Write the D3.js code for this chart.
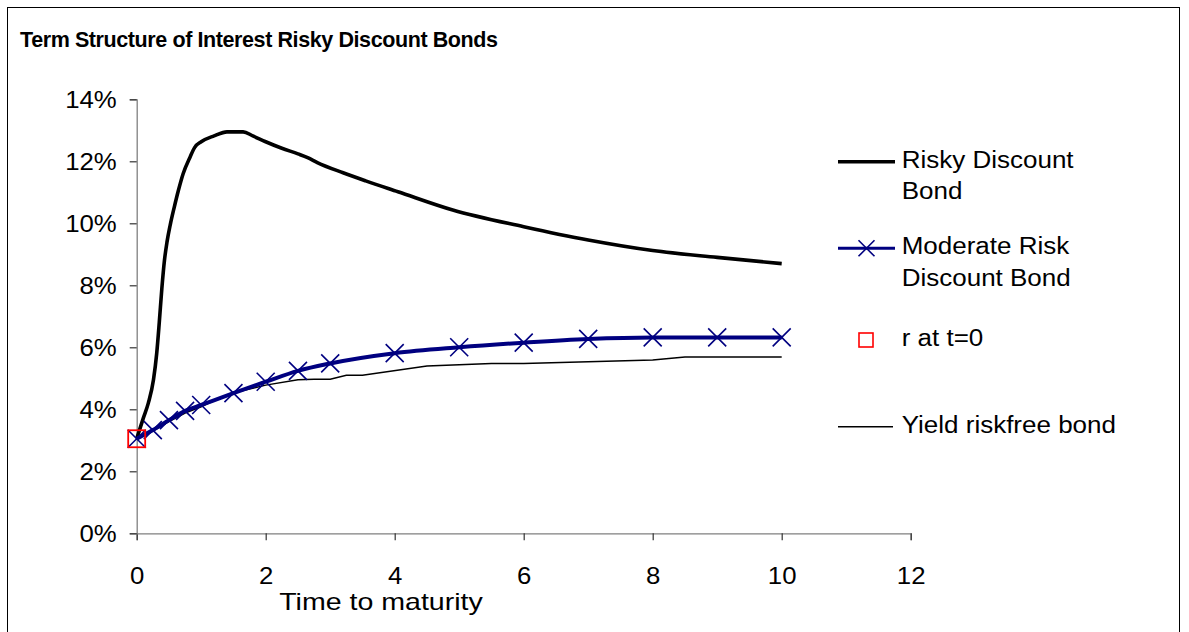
<!DOCTYPE html>
<html>
<head>
<meta charset="utf-8">
<script src="https://cdn.jsdelivr.net/npm/d3@7"></script>
<style>
  body { margin: 0; background: #fff; }
  text { font-family: "Liberation Sans", Arial, sans-serif; fill: #000; }
</style>
</head>
<body>
<div id="chart"></div>
<script>
// series data (percent)
const riskyT = [0, 0.1, 0.18, 0.26, 0.31, 0.35, 0.39, 0.43, 0.47, 0.52, 0.58, 0.645, 0.72, 0.83, 0.9, 1, 1.2, 1.4, 1.65, 1.8, 2, 2.25, 2.5, 2.65, 2.8, 3.2, 3.55, 4.05, 4.9, 6, 7, 8, 9, 10];
const riskyY = [3.05, 3.7, 4.2, 4.95, 5.8, 6.8, 7.9, 8.8, 9.4, 9.95, 10.5, 11.05, 11.6, 12.15, 12.45, 12.63, 12.82, 12.95, 12.95, 12.82, 12.63, 12.42, 12.24, 12.12, 11.96, 11.63, 11.37, 11.02, 10.43, 9.89, 9.46, 9.12, 8.9, 8.7];

const modT = [0, 0.25, 0.5, 0.75, 1, 1.5, 2, 2.5, 3, 4, 5, 6, 7, 8, 9, 10];
const modY = [3.05, 3.33, 3.65, 3.95, 4.14, 4.52, 4.89, 5.24, 5.48, 5.81, 6.0, 6.15, 6.27, 6.32, 6.32, 6.32];

const rfT = [0, 0.25, 0.5, 0.75, 1, 1.25, 1.5, 2, 2.5, 2.75, 3, 3.25, 3.5, 4.5, 5.5, 6, 7, 8, 8.5, 9, 10];
const rfY = [3.05, 3.3, 3.6, 3.88, 4.08, 4.33, 4.53, 4.78, 4.95, 4.97, 4.97, 5.1, 5.1, 5.4, 5.48, 5.48, 5.53, 5.59, 5.69, 5.69, 5.69];

const r0T = [0];
const r0Y = [3.05];

const xTicks = [0, 2, 4, 6, 8, 10, 12];
const yTicks = [0, 2, 4, 6, 8, 10, 12, 14];

const title = "Term Structure of Interest Risky Discount Bonds";
const xTitle = "Time to maturity";
const legendItems = [
  {lines: ["Risky Discount", "Bond"], type: "risky"},
  {lines: ["Moderate Risk", "Discount Bond"], type: "mod"},
  {lines: ["r at t=0"], type: "r0"},
  {lines: ["Yield riskfree bond"], type: "rf"}
];

const W = 1189, H = 632;
const navy = "#000080";

const svg = d3.select("#chart").append("svg")
    .attr("width", W)
    .attr("height", H);

// chart frame
svg.append("rect")
    .attr("x", 7.5).attr("y", 7.5)
    .attr("width", 1172).attr("height", 640)
    .attr("fill", "#fff")
    .attr("stroke", "#000")
    .attr("stroke-width", 1);

const x = d3.scaleLinear().domain([0, 12]).range([136.7, 910.7]);
const y = d3.scaleLinear().domain([0, 14]).range([533.3, 99.3]);

// axes
const xAxis = svg.append("g")
    .attr("transform", `translate(0,${y(0)})`)
    .call(d3.axisBottom(x).tickValues(xTicks).tickSize(7).tickPadding(27).tickFormat(d3.format("d")));
const yAxis = svg.append("g")
    .attr("transform", `translate(${x(0)},0)`)
    .call(d3.axisLeft(y).tickValues(yTicks).tickSize(7).tickPadding(13).tickFormat(d => d + "%"));

[xAxis, yAxis].forEach(g => {
  g.select(".domain").attr("stroke", "#808080").attr("stroke-width", 1.3);
  g.selectAll(".tick line").attr("stroke", "#333").attr("stroke-width", 1.2);
  g.selectAll(".tick text")
      .attr("class", "stretch")
      .attr("data-k", 1.12)
      .attr("font-size", 23)
      .attr("font-family", "Liberation Sans, Arial, sans-serif")
      .attr("fill", "#000");
});
yAxis.selectAll(".tick text").attr("dy", "0.36em");
xAxis.selectAll(".tick text").attr("dy", "0.72em");

const line = d3.line()
    .x(d => x(d[0]))
    .y(d => y(d[1]));

const zip = (a, b) => a.map((v, i) => [v, b[i]]);

// riskfree thin line
svg.append("path")
    .datum(zip(rfT, rfY))
    .attr("fill", "none")
    .attr("stroke", "#000")
    .attr("stroke-width", 1.5)
    .attr("d", line);

// risky line
svg.append("path")
    .datum(zip(riskyT, riskyY))
    .attr("fill", "none")
    .attr("stroke", "#000")
    .attr("stroke-width", 3.6)
    .attr("stroke-linejoin", "round")
    .attr("d", line.curve(d3.curveMonotoneX));
line.curve(d3.curveLinear);

// moderate line + x markers
svg.append("path")
    .datum(zip(modT, modY))
    .attr("fill", "none")
    .attr("stroke", navy)
    .attr("stroke-width", 4)
    .attr("stroke-linejoin", "round")
    .attr("d", line.curve(d3.curveMonotoneX));
line.curve(d3.curveLinear);

const xMark = (cx, cy, s) => `M${cx - s},${cy - s}L${cx + s},${cy + s}M${cx - s},${cy + s}L${cx + s},${cy - s}`;

svg.append("g")
  .selectAll("path")
  .data(zip(modT, modY))
  .join("path")
    .attr("d", d => xMark(x(d[0]), y(d[1]), 9))
    .attr("stroke", navy)
    .attr("stroke-width", 1.6)
    .attr("fill", "none");

// r at t=0 square
svg.append("g")
  .selectAll("rect")
  .data(zip(r0T, r0Y))
  .join("rect")
    .attr("x", d => x(d[0]) - 8.5)
    .attr("y", d => y(d[1]) - 8.5)
    .attr("width", 17)
    .attr("height", 17)
    .attr("fill", "none")
    .attr("stroke", "#ff0000")
    .attr("stroke-width", 1.8);

// title
svg.append("text")
    .attr("x", 20)
    .attr("y", 47)
    .attr("font-size", 21.5)
    .attr("font-weight", "bold")
    .attr("textLength", 478)
    .attr("lengthAdjust", "spacing")
    .text(title);

// axis title
svg.append("text")
    .attr("class", "stretch")
    .attr("data-k", 1.19)
    .attr("x", 381)
    .attr("y", 610)
    .attr("text-anchor", "middle")
    .attr("font-size", 24)
    .text(xTitle);

// legend
const legendY = [161.7, 248.3, 340, 426.7];
const lg = svg.append("g");
legendItems.forEach((item, i) => {
  const cy = legendY[i];
  const g = lg.append("g");
  if (item.type === "risky") {
    g.append("line").attr("x1", 838).attr("x2", 895).attr("y1", cy).attr("y2", cy)
        .attr("stroke", "#000").attr("stroke-width", 3.6);
  } else if (item.type === "mod") {
    g.append("line").attr("x1", 838).attr("x2", 895).attr("y1", cy).attr("y2", cy)
        .attr("stroke", navy).attr("stroke-width", 3);
    g.append("path").attr("d", xMark(866.5, cy, 8))
        .attr("stroke", navy).attr("stroke-width", 1.6).attr("fill", "none");
  } else if (item.type === "r0") {
    g.append("rect").attr("x", 859).attr("y", cy - 7).attr("width", 14).attr("height", 14)
        .attr("fill", "none").attr("stroke", "#ff0000").attr("stroke-width", 1.6);
  } else {
    g.append("line").attr("x1", 838).attr("x2", 893).attr("y1", cy).attr("y2", cy)
        .attr("stroke", "#000").attr("stroke-width", 1.5);
  }
  item.lines.forEach((t, j) => {
    g.append("text")
        .attr("class", "stretch")
        .attr("data-k", 1.13)
        .attr("x", 901.7)
        .attr("y", cy + 6 + j * 31.5)
        .attr("font-size", 23)
        .text(t);
  });
});

// Excel text looks a bit wider than Arial metrics
svg.selectAll(".stretch").each(function() {
  const k = +this.getAttribute("data-k");
  const len = this.getComputedTextLength();
  d3.select(this).attr("textLength", len * k).attr("lengthAdjust", "spacingAndGlyphs");
});
</script>
</body>
</html>
